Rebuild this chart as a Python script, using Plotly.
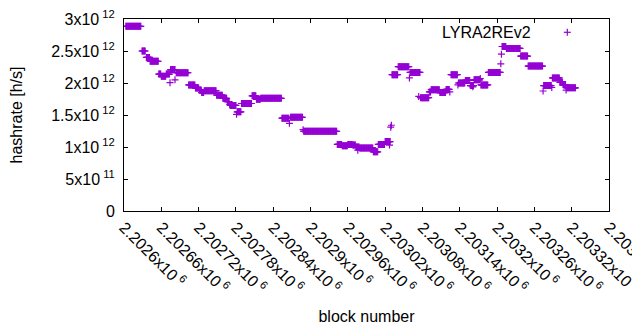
import plotly.graph_objects as go

# Runs of constant hashrate: block offset from BASE (start, end inclusive) and value [h/s]
BASE = 2202600
run_start = [3, 29, 36, 42, 56, 60, 68, 74, 75, 82, 84, 104, 115, 121, 125, 129, 149, 159, 166, 170,
             171, 181, 182, 189, 206, 213, 220, 254, 266, 268, 288, 289, 343, 351, 360, 368, 373, 376,
             379, 401, 409, 420, 427, 429, 430, 431, 441, 459, 460, 474, 477, 491, 494, 508, 518, 524,
             526, 537, 538, 549, 557, 561, 563, 573, 574, 586, 606, 607, 608, 615, 638, 650, 674, 675,
             688, 689, 701, 706, 711, 712]
run_end = [27, 34, 41, 55, 59, 67, 73, 74, 82, 82, 103, 114, 120, 124, 128, 148, 158, 165, 169, 170,
           180, 181, 188, 205, 212, 219, 253, 265, 266, 287, 288, 342, 350, 359, 367, 372, 378, 376,
           400, 408, 419, 428, 427, 429, 430, 440, 458, 459, 476, 474, 490, 493, 507, 517, 523, 524,
           536, 537, 548, 556, 562, 561, 572, 573, 585, 605, 606, 607, 614, 637, 649, 673, 674, 687,
           688, 700, 705, 710, 711, 726]
run_value = [2.886e12, 2.50e12, 2.40e12, 2.34e12, 2.14e12, 2.105e12, 2.14e12, 2.005e12, 2.21e12, 2.05e12,
             2.16e12, 1.97e12, 1.92e12, 1.89e12, 1.85e12, 1.88e12, 1.81e12, 1.76e12, 1.71e12, 1.66e12,
             1.65e12, 1.51e12, 1.55e12, 1.68e12, 1.80e12, 1.745e12, 1.76e12, 1.45e12, 1.37e12, 1.465e12,
             1.27e12, 1.245e12, 1.04e12, 1.02e12, 1.04e12, 1.03e12, 1.00e12, 0.95e12, 0.985e12, 0.925e12,
             1.04e12, 1.085e12, 1.03e12, 1.31e12, 1.34e12, 2.13e12, 2.255e12, 2.08e12, 2.165e12, 1.79e12,
             1.77e12, 1.86e12, 1.895e12, 1.85e12, 1.90e12, 1.86e12, 2.13e12, 1.97e12, 2.0e12, 2.04e12,
             1.96e12, 1.94e12, 2.05e12, 2.07e12, 1.97e12, 2.165e12, 2.30e12, 2.45e12, 2.57e12, 2.54e12,
             2.42e12, 2.265e12, 1.875e12, 1.96e12, 1.93e12, 2.08e12, 2.01e12, 1.975e12, 1.89e12, 1.925e12]

x_tick_vals = [2202600, 2202660, 2202720, 2202780, 2202840, 2202900, 2202960, 2203020,
               2203080, 2203140, 2203200, 2203260, 2203320, 2203380]
x_tick_text = ["2.2026", "2.20266", "2.20272", "2.20278", "2.20284", "2.2029", "2.20296", "2.20302",
               "2.20308", "2.20314", "2.2032", "2.20326", "2.20332", "2.20338"]
y_tick_vals = [0, 5e11, 1e12, 1.5e12, 2e12, 2.5e12, 3e12]
y_tick_text = ["0", "5x10<sup> 11</sup>", "1x10<sup> 12</sup>", "1.5x10<sup> 12</sup>",
               "2x10<sup> 12</sup>", "2.5x10<sup> 12</sup>", "3x10<sup> 12</sup>"]

blocks, hashrate = [], []
for s, e, v in zip(run_start, run_end, run_value):
    for b in range(s, e + 1):
        blocks.append(BASE + b)
        hashrate.append(v)

COLOR = "#9400d3"
FONT = "Liberation Sans, Arial, sans-serif"

# page body has an 8px margin, so the figure is 8px smaller and shifted
W, H = 632, 322
L, T, PW, PH = 116, 11, 485, 192

fig = go.Figure()
fig.add_trace(go.Scatter(
    x=blocks, y=hashrate, mode="markers", name="LYRA2REv2", showlegend=False,
    marker=dict(symbol="cross-thin", size=5, color=COLOR, line=dict(color=COLOR, width=1.2)),
))

axis_common = dict(showgrid=False, zeroline=False, showline=True, linecolor="black", linewidth=1,
                   ticks="inside", ticklen=4, tickwidth=1, tickcolor="black", mirror="allticks",
                   ticklabeloverflow="allow",
                   tickfont=dict(family=FONT, size=16, color="black"))
fig.update_xaxes(range=[2202600, 2203380], tickmode="array", tickvals=x_tick_vals,
                 ticktext=[t + "x10<sup> 6</sup>" for t in x_tick_text], tickangle=45,
                 title=dict(text="block number", font=dict(family=FONT, size=16, color="black"), standoff=15),
                 **axis_common)
fig.update_yaxes(range=[0, 3e12], tickmode="array", tickvals=y_tick_vals, ticktext=y_tick_text,
                 ticklabelstandoff=5,
                 title=dict(text="hashrate [h/s]", font=dict(family=FONT, size=16, color="black"), standoff=24),
                 **axis_common)

# gnuplot-style key: text, then sample symbol to its right
fig.add_annotation(xref="paper", yref="paper", x=(533 - 124) / PW, y=(211 - 32) / PH,
                   xanchor="right", yanchor="middle", text="LYRA2REv2", showarrow=False,
                   font=dict(family=FONT, size=16, color="black"))
kx, ky = (567.3 - 124) / PW, (211 - 32.3) / PH
fig.add_shape(type="line", xref="paper", yref="paper", xsizemode="pixel", ysizemode="pixel",
              xanchor=kx, yanchor=ky, x0=-3.5, x1=3.5, y0=0, y1=0, line=dict(color=COLOR, width=1.2))
fig.add_shape(type="line", xref="paper", yref="paper", xsizemode="pixel", ysizemode="pixel",
              xanchor=kx, yanchor=ky, x0=0, x1=0, y0=-3.5, y1=3.5, line=dict(color=COLOR, width=1.2))

fig.update_layout(width=W, height=H,
                  margin=dict(l=L, r=W - L - PW, t=T, b=H - T - PH, autoexpand=False),
                  paper_bgcolor="white", plot_bgcolor="white", showlegend=False,
                  font=dict(family=FONT, size=16, color="black"))
fig.write_html("out.html")
